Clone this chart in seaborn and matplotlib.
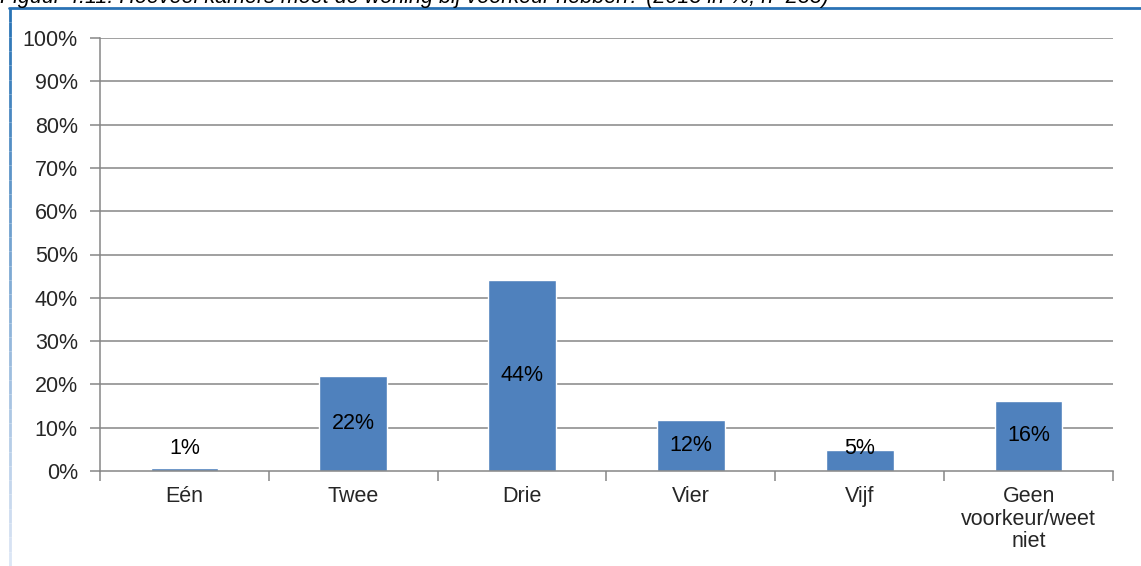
import matplotlib
matplotlib.use("Agg")
import matplotlib.pyplot as plt
import seaborn as sns
import pandas as pd
import numpy as np
from matplotlib.collections import LineCollection

categories = ["Eén", "Twee", "Drie", "Vier", "Vijf", "Geen\nvoorkeur/weet\nniet"]
shares = [0.7, 21.9, 44.1, 11.8, 4.8, 16.2]
value_labels = ["1%", "22%", "44%", "12%", "5%", "16%"]
y_ticks = [0, 10, 20, 30, 40, 50, 60, 70, 80, 90, 100]
title = "Figuur 4.11: Hoeveel kamers moet de woning bij voorkeur hebben? (2013 in %; n=233)"

sns.set_theme(style="white")
plt.rcParams["font.family"] = ["Liberation Sans", "DejaVu Sans"]
fs = 15.5

df = pd.DataFrame({"Kamers": categories, "Aandeel": shares})

fig = plt.figure(figsize=(11.41, 5.66), dpi=100)
ax = fig.add_axes([100 / 1141, 1 - 471 / 566, (1113 - 100) / 1141, (471 - 38) / 566])

grid_col = "#868686"
for t in y_ticks[1:]:
    ax.axhline(t, color=grid_col, lw=1.1, zorder=0)

sns.barplot(data=df, x="Kamers", y="Aandeel", color="#4F81BD", width=0.4,
            saturation=1, ax=ax, zorder=2)

for i, (v, lab) in enumerate(zip(shares, value_labels)):
    ax.text(i, max(v / 2, 5.1), lab, ha="center", va="center",
            fontsize=fs, color="black", zorder=3)

ax.set_xlim(-0.5, len(categories) - 0.5)
ax.set_ylim(0, 100)
ax.set_yticks(y_ticks)
ax.set_yticklabels([f"{t}%" for t in y_ticks])
ax.set_xlabel("")
ax.set_ylabel("")

ax.set_xticks(np.arange(-0.5, len(categories), 1), minor=True)
ax.tick_params(axis="x", which="major", length=0, pad=11, labelsize=fs)
ax.tick_params(axis="x", which="minor", length=7, width=1.1, color=grid_col,
               direction="out", bottom=True)
ax.tick_params(axis="y", length=7, width=1.1, color=grid_col, direction="out",
               left=True, pad=9, labelsize=fs)
for lab in ax.get_xticklabels():
    lab.set_linespacing(1.1)

for side in ["top", "right"]:
    ax.spines[side].set_visible(False)
for side in ["left", "bottom"]:
    ax.spines[side].set_color(grid_col)
    ax.spines[side].set_linewidth(1.1)

# frame of the surrounding document box
fig.add_artist(plt.Line2D([9 / 1141, 1], [1 - 8 / 566, 1 - 8 / 566],
                          color="#2a72b5", lw=2, transform=fig.transFigure))
ys = np.linspace(1 - 8 / 566, 0, 40)
segs = [[(9.5 / 1141, ys[k]), (9.5 / 1141, ys[k + 1])] for k in range(len(ys) - 1)]
cols = [(0.16 + 0.7 * f, 0.45 + 0.45 * f, 0.71 + 0.25 * f)
        for f in np.linspace(0, 1, len(segs))]
fig.add_artist(LineCollection(segs, colors=cols, lw=2, transform=fig.transFigure))

fig.text(0.0, 1 - 3 / 566, title, ha="left", va="baseline", fontsize=fs,
         style="italic", color="black")

fig.savefig("out.png", dpi=100)
